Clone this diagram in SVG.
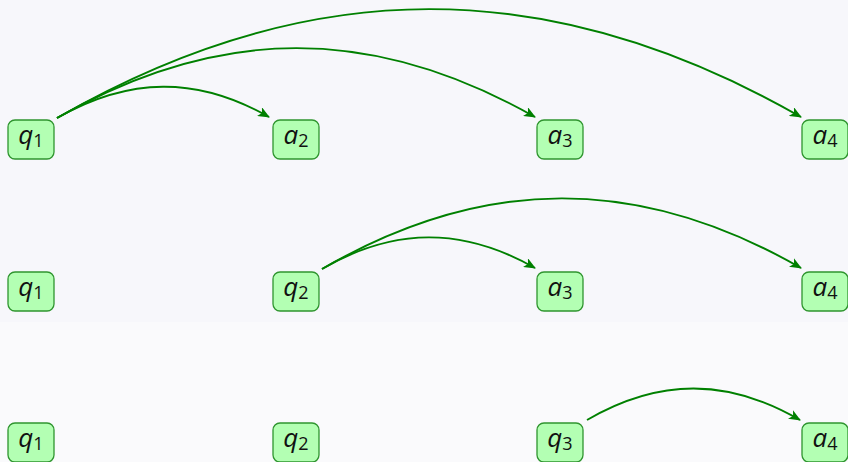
<svg xmlns="http://www.w3.org/2000/svg" width="848" height="462" viewBox="0 0 848 462">
<style>
.bg1{fill:#f7f7fb}.bg2{fill:#f7f7fb}.bg3{fill:#fafafc}
.box{fill:#b3ffb3;stroke:#2f952f;stroke-width:1.3}
.lbl{font-family:"Open Sans","DejaVu Sans",sans-serif;font-style:italic;font-size:26px;fill:#111;text-anchor:middle}
.sub{font-style:normal;font-size:18px}
.edge{fill:none;stroke:#008000;stroke-width:1.9;marker-end:url(#ah)}
</style>
<defs>
<marker id="ah" viewBox="0 0 12 10" refX="11" refY="5" markerWidth="12" markerHeight="10" markerUnits="userSpaceOnUse" orient="auto">
<path d="M0,0 L12,5 L0,10 L3,5 Z" fill="#008000"/>
</marker>
</defs>
<rect class="bg1" x="0" y="0" width="848" height="176"/>
<rect class="bg2" x="0" y="176" width="848" height="146"/>
<rect class="bg3" x="0" y="322" width="848" height="140"/>

<g id="r1q1"><rect class="box" x="8" y="120" width="46" height="39" rx="7"/><text class="lbl" x="31" y="144">q<tspan class="sub" dy="3">1</tspan></text></g>
<g id="r1a2"><rect class="box" x="273" y="120" width="46" height="39" rx="7"/><text class="lbl" x="296" y="144">a<tspan class="sub" dy="3">2</tspan></text></g>
<g id="r1a3"><rect class="box" x="537" y="120" width="46" height="39" rx="7"/><text class="lbl" x="560" y="144">a<tspan class="sub" dy="3">3</tspan></text></g>
<g id="r1a4"><rect class="box" x="802" y="120" width="46" height="39" rx="7"/><text class="lbl" x="825" y="144">a<tspan class="sub" dy="3">4</tspan></text></g>

<g id="r2q1"><rect class="box" x="8" y="272" width="46" height="39" rx="7"/><text class="lbl" x="31" y="296">q<tspan class="sub" dy="3">1</tspan></text></g>
<g id="r2q2"><rect class="box" x="273" y="272" width="46" height="39" rx="7"/><text class="lbl" x="296" y="296">q<tspan class="sub" dy="3">2</tspan></text></g>
<g id="r2a3"><rect class="box" x="537" y="272" width="46" height="39" rx="7"/><text class="lbl" x="560" y="296">a<tspan class="sub" dy="3">3</tspan></text></g>
<g id="r2a4"><rect class="box" x="802" y="272" width="46" height="39" rx="7"/><text class="lbl" x="825" y="296">a<tspan class="sub" dy="3">4</tspan></text></g>

<g id="r3q1"><rect class="box" x="8" y="423" width="46" height="39" rx="7"/><text class="lbl" x="31" y="447">q<tspan class="sub" dy="3">1</tspan></text></g>
<g id="r3q2"><rect class="box" x="273" y="423" width="46" height="39" rx="7"/><text class="lbl" x="296" y="447">q<tspan class="sub" dy="3">2</tspan></text></g>
<g id="r3q3"><rect class="box" x="537" y="423" width="46" height="39" rx="7"/><text class="lbl" x="560" y="447">q<tspan class="sub" dy="3">3</tspan></text></g>
<g id="r3a4"><rect class="box" x="802" y="423" width="46" height="39" rx="7"/><text class="lbl" x="825" y="447">a<tspan class="sub" dy="3">4</tspan></text></g>

<g id="connectors">
<path class="edge" d="M57,118 C129,77 197,76 269,117"/>
<path class="edge" d="M57,118 C219,25 373,25 535,117"/>
<path class="edge" d="M57,118 C309,-27 549,-27 801,117"/>
<path class="edge" d="M322,269 C394,227 463,227 535,268"/>
<path class="edge" d="M322,269 C484,175 639,175 801,268"/>
<path class="edge" d="M587,420 C659,378 728,378 800,420"/>
</g>
</svg>
